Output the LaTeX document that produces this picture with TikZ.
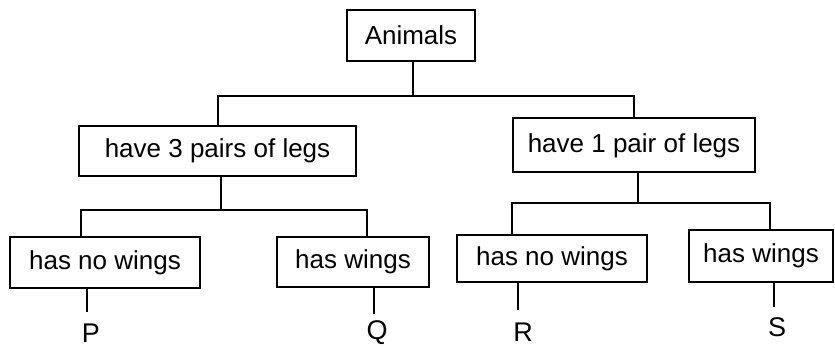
\documentclass[tikz,border=0pt]{standalone}
\usepackage{fontspec}
\setmainfont{Liberation Sans}
\begin{document}
\begin{tikzpicture}[x=1pt,y=-1pt,
  box/.style={draw=black,line width=2pt,inner sep=0pt,font=\fontsize{26}{29}\selectfont},
  leaf/.style={inner sep=0pt,font=\fontsize{27}{30}\selectfont},
  conn/.style={draw=black,line width=2pt}]
\useasboundingbox (0,0) rectangle (835,347);
% boxes
\node[box,minimum width=128pt,minimum height=51pt] (animals) at (411,35.5) {Animals};
\node[box,minimum width=277pt,minimum height=50pt] (l3) at (217.5,151) {have 3 pairs of legs};
\node[box,minimum width=242pt,minimum height=54pt] (r1) at (634,145.5) {have 1 pair of legs};
\node[box,minimum width=190pt,minimum height=51pt] (nwL) at (105,262.5) {has no wings};
\node[box,minimum width=152pt,minimum height=50pt] (hwL) at (353,262) {has wings};
\node[box,minimum width=190pt,minimum height=47pt] (nwR) at (552,258.5) {has no wings};
\node[box,minimum width=144pt,minimum height=52pt] (hwR) at (761,256) {has wings};
% leaf labels
\node[leaf] (P) at (91,333) {P};
\node[leaf] (Q) at (377,333) {Q};
\node[leaf] (R) at (523,332) {R};
\node[leaf] (S) at (777,327) {S};
% junctions
\coordinate (j1) at (413,96);
\coordinate (j2) at (221,210);
\coordinate (j3) at (638,203);
\coordinate (dnwL) at (81,210);
\coordinate (dhwL) at (367,210);
\coordinate (dnwR) at (512,203);
\coordinate (dhwR) at (770,203);
% connectors
\draw[conn] (animals.south -| j1) -- (j1);
\draw[conn] (l3.north) |- (j1) -| (r1.north);
\draw[conn] (l3.south -| j2) -- (j2);
\draw[conn] (nwL.north -| dnwL) -- (dnwL) -- (dhwL) -- (hwL.north -| dhwL);
\draw[conn] (r1.south -| j3) -- (j3);
\draw[conn] (nwR.north -| dnwR) -- (dnwR) -- (dhwR) -- (hwR.north -| dhwR);
\draw[conn] (nwL.south -| 87,0) -- (87,312);
\draw[conn] (hwL.south -| 374,0) -- (374,314);
\draw[conn] (nwR.south -| 518,0) -- (518,310);
\draw[conn] (hwR.south -| 774,0) -- (774,307);
\end{tikzpicture}
\end{document}
